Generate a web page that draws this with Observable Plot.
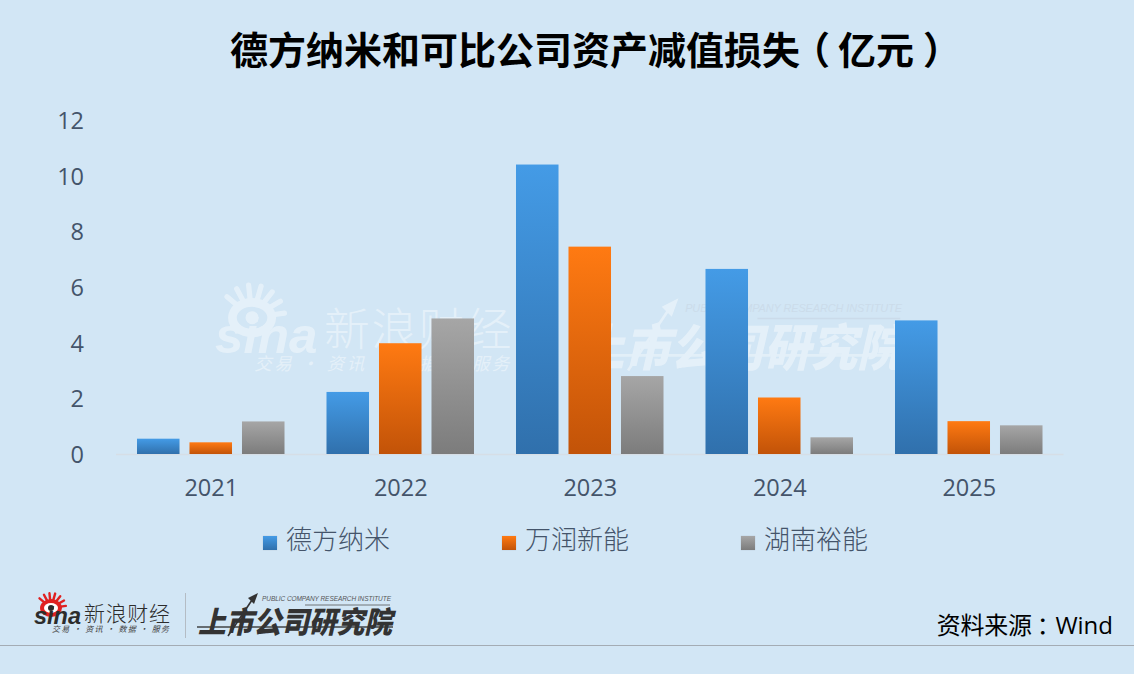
<!DOCTYPE html>
<html lang="zh"><head><meta charset="utf-8">
<script src="https://cdn.jsdelivr.net/npm/d3@7"></script>
<script src="https://cdn.jsdelivr.net/npm/@observablehq/plot@0.6"></script>
<style>
html,body{margin:0;padding:0;background:#d2e6f5;width:1134px;height:674px;overflow:hidden;font-family:"Noto Sans CJK SC",sans-serif}
#title{position:absolute;left:230px;top:20px;font-size:38px;line-height:56px;font-weight:700;color:#000;white-space:pre}
#title span{position:relative}
#chart{position:absolute;left:0;top:100px;z-index:2}
#legend{position:absolute;left:0;top:518px;width:1134px;height:40px;z-index:2;font-size:26px;font-weight:300;color:#44546a}
#legend span{position:absolute;top:0;line-height:40px;white-space:nowrap}
#legend i{display:inline-block;width:14px;height:14px;margin-right:9px;vertical-align:-1px;box-shadow:0 0 1px rgba(0,0,0,.2)}
#art{position:absolute;left:0;top:0;z-index:1}
#source{position:absolute;right:21px;top:606px;font-size:24px;line-height:36px;color:#000;z-index:2;letter-spacing:-.3px}
#source b{font-weight:400;font-family:"Open Sans",sans-serif;letter-spacing:0}
#source u{text-decoration:none;position:relative;left:5px;font-family:"Noto Sans CJK TC"}
</style></head><body>
<div id="title">德方纳米和可比公司资产减值损失<span style="left:-8px">（</span>亿元<span style="left:9px">）</span></div>
<svg id="art" width="1134" height="674" xmlns="http://www.w3.org/2000/svg"></svg>
<div id="chart"></div>
<div id="legend"></div>
<div id="source">资料来源<u>：</u><b>Wind</b></div>
<script>
const years = ["2021","2022","2023","2024","2025"];
const seriesNames = ["德方纳米","万润新能","湖南裕能"];
const dfnm = [0.55,2.23,10.4,6.65,4.8];
const wrxn = [0.42,3.98,7.45,2.03,1.18];
const hnyn = [1.17,4.87,2.8,0.6,1.03];
const yTicks = [0,2,4,6,8,10,12];
const gradientStops = [["#449be6","#3070ac"],["#ff7a12","#c25308"],["#a6a6a6","#7c7c7c"]];

const rows = years.flatMap((year,i)=>[dfnm,wrxn,hnyn].map((vals,s)=>({year,series:seriesNames[s],value:vals[i]})));

const plot = Plot.plot({
  width:1134,height:420,
  marginTop:20,marginBottom:66,marginLeft:116,marginRight:70.5,
  style:{background:"transparent",overflow:"visible"},
  fx:{domain:years,padding:0,label:null,round:false},
  x:{domain:seriesNames,paddingInner:0.19,paddingOuter:0.4,round:false,axis:null},
  y:{domain:[0,12],ticks:yTicks,label:null},
  color:{domain:seriesNames,range:seriesNames.map((_,i)=>`url(#grad${i})`)},
  marks:[
    Plot.ruleY([0],{stroke:"#d6dee6",strokeWidth:1.5}),
    Plot.barY(rows,{fx:"year",x:"series",y:"value",fill:"series",style:{filter:"drop-shadow(1px 0 1.5px rgba(0,0,0,.22))"}}),
    Plot.axisY({ticks:yTicks,tickSize:0,tickPadding:32.5,dy:1,fontSize:23.5,fontFamily:"Open Sans",fill:"#44546a",label:null}),
    Plot.axisFx({anchor:"bottom",tickSize:0,tickPadding:25,fontSize:23.5,fontFamily:"Open Sans",fill:"#44546a",label:null})
  ]
});
const svgNS="http://www.w3.org/2000/svg";
const defs=document.createElementNS(svgNS,"defs");
defs.innerHTML=gradientStops.map((g,i)=>`<linearGradient id="grad${i}" x1="0" y1="0" x2="0" y2="1"><stop offset="0" stop-color="${g[0]}"/><stop offset="1" stop-color="${g[1]}"/></linearGradient>`).join("");
plot.insertBefore(defs,plot.firstChild);
document.getElementById("chart").appendChild(plot);

const legendX=[263,502,741];
document.getElementById("legend").innerHTML=seriesNames.map((n,i)=>`<span style="left:${legendX[i]}px"><i style="background:linear-gradient(${gradientStops[i][0]},${gradientStops[i][1]})"></i>${n}</span>`).join("");

function sinaLogo(c,ink,eye){
  const rays=[-50,-28,-6,16,38,60,82].map(a=>`<line x1="0" y1="-8" x2="0" y2="-15" transform="rotate(${a})" stroke="${eye}" stroke-width="2.4" stroke-linecap="round"/>`).join("");
  return `<g transform="translate(51,608)">${rays}<ellipse rx="11" ry="9" fill="${eye}"/><ellipse rx="7" ry="5" fill="${c.hole}"/><circle r="3" fill="${ink}"/></g>
  <text x="34" y="624" font-family="Liberation Sans" font-style="italic" font-weight="700" font-size="23" textLength="47" lengthAdjust="spacingAndGlyphs" fill="${ink}">sina</text>
  <text x="84" y="621" font-size="21" font-weight="300" textLength="86" fill="${ink}">新浪财经</text>
  <text x="52" y="632" font-size="8" font-style="italic" textLength="117" fill="${c.sub}">交易 · 资讯 · 数据 · 服务</text>`;
}
function instLogo(ink,sub){
  return `<path d="M197 627H393" stroke="${ink}" stroke-width="1.6" opacity=".9"/>
  <path d="M228 636L254 597" stroke="${ink}" stroke-width="1.6"/><path d="M258 593L248 598L254 604Z" fill="${ink}"/>
  <text x="262" y="601" font-family="Liberation Sans" font-style="italic" font-size="6.5" textLength="129" fill="${sub}">PUBLIC COMPANY RESEARCH INSTITUTE</text>
  <path d="M305 605H390" stroke="${sub}" stroke-width=".8"/>
  <text x="198" y="633" font-size="30" font-weight="900" font-style="italic" textLength="194" lengthAdjust="spacingAndGlyphs" fill="${ink}">上市公司研究院</text>`;
}
document.getElementById("art").innerHTML=`
<g opacity=".42" transform="translate(215,285) scale(2.18) translate(-34,-593)">${sinaLogo({hole:"#d2e6f5",sub:"#fff"},"#fff","#fff")}</g>
<g opacity=".42" transform="translate(576,300) scale(1.68) translate(-197,-594)">${instLogo("#fff","#c3cedb")}</g>
${sinaLogo({hole:"#fff",sub:"#444"},"#2c2c2c","#e02020")}
<path d="M185.500 593V638" stroke="#b4bcc4" stroke-width="1"/>
${instLogo("#333","#555")}
<path d="M0 645.500H1134" stroke="#a4acb4" stroke-width="1"/>`;
</script>
</body></html>
